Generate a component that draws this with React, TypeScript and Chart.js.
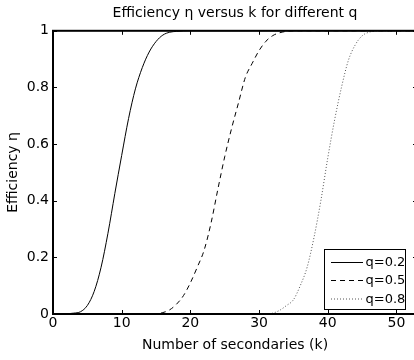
import React, { useEffect, useRef } from "react";
import { Chart, registerables } from "chart.js";

Chart.register(...registerables);

const kValues = [
  0, 1, 2, 3, 4, 5, 6, 7, 8, 9, 10, 11, 12, 13, 14, 15, 16, 17, 18, 19, 20,
  21, 22, 23, 24, 25, 26, 27, 28, 29, 30, 31, 32, 33, 34, 35, 36, 37, 38, 39,
  40, 41, 42, 43, 44, 45, 46, 47, 48, 49, 50, 51, 52, 53,
];

const effQ02 = [
  0, 0, 0.001, 0.003, 0.008, 0.03, 0.08, 0.165, 0.285, 0.425, 0.56, 0.69,
  0.795, 0.87, 0.925, 0.962, 0.985, 0.995, 0.998, 0.9995, 1, 1, 1, 1, 1, 1,
  1, 1, 1, 1, 1, 1, 1, 1, 1, 1, 1, 1, 1, 1, 1, 1, 1, 1, 1, 1, 1, 1, 1, 1, 1,
  1, 1, 1,
];

const effQ05 = [
  0, 0, 0, 0, 0, 0, 0, 0, 0, 0, 0, 0, 0, 0, 0, 0.001, 0.005, 0.015, 0.035,
  0.065, 0.11, 0.165, 0.225, 0.32, 0.44, 0.555, 0.655, 0.745, 0.835, 0.885,
  0.93, 0.963, 0.983, 0.993, 0.998, 1, 1, 1, 1, 1, 1, 1, 1, 1, 1, 1, 1, 1, 1,
  1, 1, 1, 1, 1,
];

const effQ08 = [
  0, 0, 0, 0, 0, 0, 0, 0, 0, 0, 0, 0, 0, 0, 0, 0, 0, 0, 0, 0, 0, 0, 0, 0, 0,
  0, 0, 0, 0, 0, 0, 0, 0.003, 0.013, 0.03, 0.05, 0.1, 0.165, 0.27, 0.4, 0.55,
  0.685, 0.8, 0.895, 0.95, 0.982, 0.995, 0.999, 1, 1, 1, 1, 1, 1,
];

const seriesLabels = ["q=0.2", "q=0.5", "q=0.8"];
const xTicks = [0, 10, 20, 30, 40, 50];
const yTicks = [0, 0.2, 0.4, 0.6, 0.8, 1];

const titleText = "Efficiency \u03b7 versus k for different q";
const xTitle = "Number of secondaries (k)";
const yTitle = "Efficiency \u03b7";

const FONT = "'DejaVu Sans', sans-serif";

const styles = [
  { color: "#000", dash: [] as number[] },
  { color: "#000", dash: [5, 4] },
  { color: "#555", dash: [1, 2] },
];

const framePlugin = {
  id: "matlabFrame",
  afterDraw(chart: any) {
    const { ctx, chartArea } = chart;
    const { left, right, top, bottom } = chartArea;
    const xs = chart.scales.x;
    const ys = chart.scales.y;
    ctx.save();
    ctx.strokeStyle = "#000";
    ctx.lineWidth = 1;
    ctx.setLineDash([]);
    const tl = 4;
    ctx.beginPath();
    xTicks.forEach((v) => {
      const px = Math.round(xs.getPixelForValue(v)) + 0.5;
      ctx.moveTo(px, bottom);
      ctx.lineTo(px, bottom - tl);
      ctx.moveTo(px, top);
      ctx.lineTo(px, top + tl);
    });
    yTicks.forEach((v) => {
      const py = Math.round(ys.getPixelForValue(v)) + 0.5;
      ctx.moveTo(left, py);
      ctx.lineTo(left + tl, py);
      ctx.moveTo(right, py);
      ctx.lineTo(right - tl, py);
    });
    ctx.stroke();
    ctx.lineWidth = 2;
    ctx.strokeRect(left, top, right - left, bottom - top);

    // legend
    const bx = 324.5, by = 249.5, bw = 81, bh = 60;
    ctx.fillStyle = "#fff";
    ctx.fillRect(bx, by, bw, bh);
    ctx.lineWidth = 1;
    ctx.strokeStyle = "#000";
    ctx.strokeRect(bx, by, bw, bh);
    const rows = [262, 280, 298.5];
    ctx.font = `13px ${FONT}`;
    ctx.textBaseline = "middle";
    ctx.textAlign = "left";
    seriesLabels.forEach((lab, i) => {
      ctx.beginPath();
      ctx.strokeStyle = styles[i].color;
      ctx.setLineDash(styles[i].dash);
      ctx.moveTo(331, rows[i] + 0.5);
      ctx.lineTo(363, rows[i] + 0.5);
      ctx.stroke();
      ctx.setLineDash([]);
      ctx.fillStyle = "#000";
      ctx.fillText(lab, 365.5, rows[i] + 1);
    });
    ctx.restore();
  },
};

export default function App() {
  const ref = useRef<HTMLCanvasElement | null>(null);

  useEffect(() => {
    if (!ref.current) return;
    const datasets = [effQ02, effQ05, effQ08].map((arr, i) => ({
      label: seriesLabels[i],
      data: kValues.map((k, j) => ({ x: k, y: arr[j] })),
      borderColor: styles[i].color,
      borderDash: styles[i].dash,
      borderWidth: 1,
      pointRadius: 0,
      fill: false,
      cubicInterpolationMode: "monotone" as const,
    }));
    const chart = new Chart(ref.current, {
      type: "line",
      data: { datasets },
      plugins: [framePlugin],
      options: {
        animation: false,
        responsive: false,
        layout: { padding: { top: 0, right: 7, bottom: 0, left: 0 } },
        plugins: {
          legend: { display: false },
          tooltip: { enabled: false },
          title: {
            display: true,
            fullSize: false,
            text: titleText,
            color: "#000",
            font: { family: FONT, size: 14, weight: "normal" },
            padding: { top: 5, bottom: 9 },
          },
        },
        scales: {
          x: {
            type: "linear",
            min: 0,
            max: 53,
            grid: { display: false, drawTicks: false },
            border: { display: false },
            afterBuildTicks: (s: any) => {
              s.ticks = xTicks.map((v) => ({ value: v }));
            },
            afterFit: (s: any) => {
              s.height = 46;
            },
            ticks: {
              color: "#000",
              font: { family: FONT, size: 14 },
              padding: 1,
              maxRotation: 0,
              autoSkip: false,
            },
            title: {
              display: true,
              text: xTitle,
              color: "#000",
              font: { family: FONT, size: 14 },
              padding: { top: 0, bottom: 6 },
            },
          },
          y: {
            type: "linear",
            min: 0,
            max: 1,
            grid: { display: false, drawTicks: false },
            border: { display: false },
            afterBuildTicks: (s: any) => {
              s.ticks = yTicks.map((v) => ({ value: v }));
            },
            afterFit: (s: any) => {
              s.width = 53;
            },
            ticks: {
              color: "#000",
              font: { family: FONT, size: 14 },
              padding: 4,
              autoSkip: false,
              callback: (v: any) => String(v),
            },
            title: {
              display: true,
              text: yTitle,
              color: "#000",
              font: { family: FONT, size: 14 },
              padding: { top: 5, bottom: 0 },
            },
          },
        },
      },
    });
    return () => chart.destroy();
  }, []);

  return (
    <div
      style={{
        position: "absolute",
        left: 0,
        top: 0,
        width: 414,
        height: 360,
        overflow: "hidden",
        background: "#fff",
      }}
    >
      <canvas ref={ref} width={424} height={360} style={{ display: "block" }} />
    </div>
  );
}
